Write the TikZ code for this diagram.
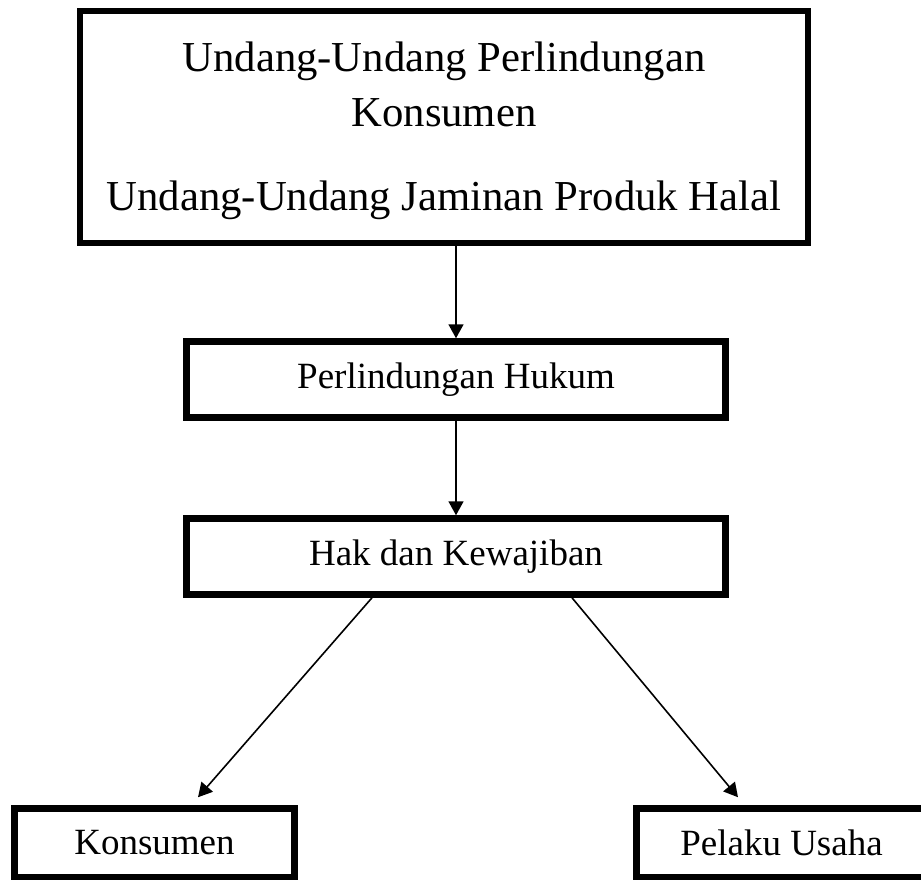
\documentclass[tikz,border=0pt]{standalone}
\usepackage{fontspec}
\setmainfont{Liberation Serif}
\usetikzlibrary{arrows.meta}
\tikzstyle{box} = [
    rectangle, text centered,
    line width=6.5pt,
    draw=black,
]
\tikzstyle{law} = [
    box,
    minimum width=728pt,
    minimum height=232pt,
    font=\fontsize{42.7pt}{55pt}\selectfont,
]
\tikzstyle{level} = [
    box,
    minimum width=539pt,
    minimum height=76pt,
    font=\fontsize{37pt}{44pt}\selectfont,
]
\tikzstyle{party} = [
    level,
    minimum width=280pt,
    minimum height=68.5pt,
]
\tikzstyle{arrow} = [-{Triangle[length=14pt,width=15pt]}, line width=1.6pt]

\begin{document}
\begin{tikzpicture}[x=1pt,y=-1pt]
    \useasboundingbox (0,0) rectangle (921,881);
    % boxes
    \node (uu) at (444,127) [law] {\raisebox{-3pt}[\height][\depth]{\begin{tabular}{@{}c@{}}
        Undang-Undang Perlindungan\\Konsumen\\[29pt]Undang-Undang Jaminan Produk Halal
    \end{tabular}}};
    \node (hukum) at (456,379.5) [level] {Perlindungan Hukum};
    \node (hak) at (456,556.5) [level] {Hak dan Kewajiban};
    \node (konsumen) at (154.5,842.75) [party] {Konsumen};
    \node (pelaku) at (781.5,842.75) [party, minimum width=290pt] {Pelaku Usaha};

    % arrow ends
    \coordinate (konsumen-in) at ([xshift=43.5pt,yshift=8pt]konsumen.north);
    \coordinate (pelaku-in) at ([xshift=-43.5pt,yshift=8pt]pelaku.north);

    % arrows
    \draw [arrow] (uu.south -| hukum.north) to (hukum.north);
    \draw [arrow] (hukum.south) to (hak.north);
    \draw [arrow] ([xshift=-84pt]hak.south) to (konsumen-in);
    \draw [arrow] ([xshift=116pt]hak.south) to (pelaku-in);

\end{tikzpicture}
\end{document}
